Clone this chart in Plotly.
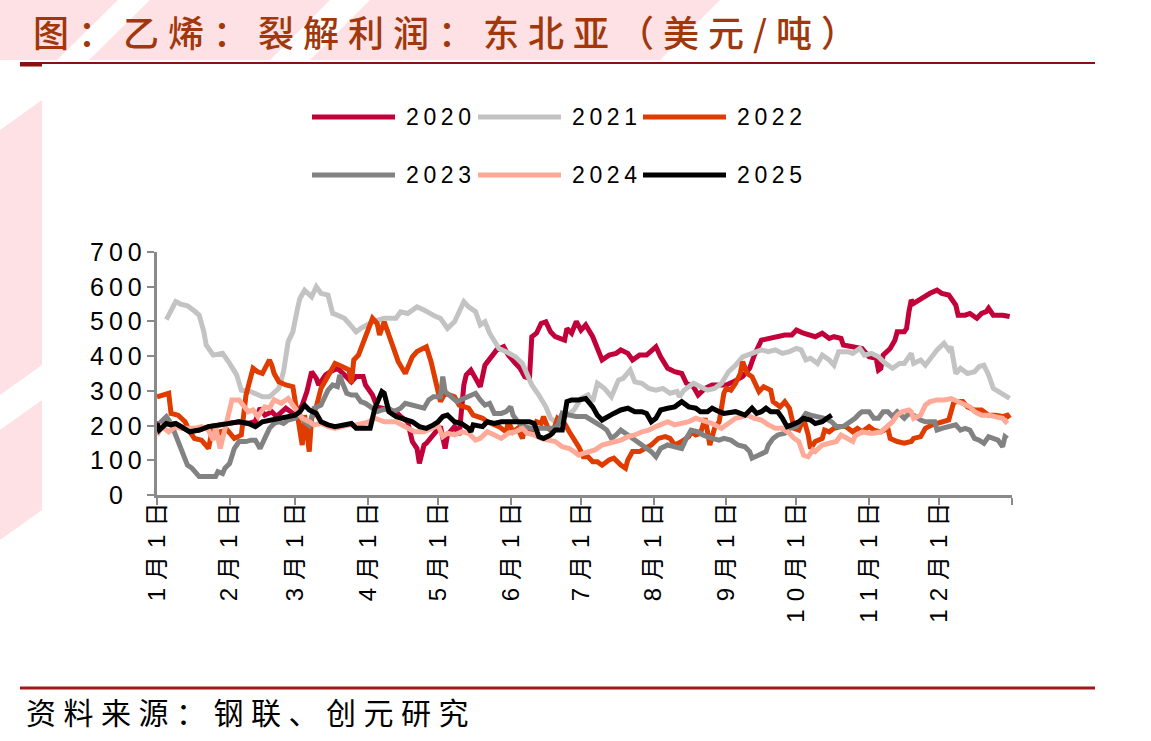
import pandas as pd
import plotly.graph_objects as go

# ---------------- data (day of year offset, value) ----------------
d2020 = [0, 4, 8, 14, 18, 22, 27, 31, 35, 39, 42, 44, 46, 49, 51, 55, 57, 59, 62, 64, 66, 68, 69, 72, 74, 77, 80, 83, 85, 88, 89, 92, 94, 96, 99,
         102, 104, 107, 109, 111, 112, 114, 115, 117, 119, 121, 123, 124, 127, 129, 131, 132, 134, 136, 138, 140, 143, 145, 148,
         150, 153, 155, 157, 159, 160, 162, 164, 166, 168, 170, 174, 175, 177, 179, 181, 183, 186, 188, 190, 193, 196, 198, 201,
         203, 206, 209, 212, 213, 215, 218, 221, 224, 226, 229, 231, 234, 237, 240, 243, 246, 250, 253, 255, 258, 261, 265, 268,
         271, 273, 276, 279, 281, 284, 287, 289, 292, 293, 296, 299, 301, 304, 307, 308, 309, 310, 312, 313, 315, 316, 319, 320,
         321, 322, 323, 326, 328, 330, 333, 335, 338, 340, 341, 342, 345, 347, 350, 352, 354, 355, 357, 361, 364]
v2020 = [205, 204, 205, 184, 187, 197, 202, 206, 211, 206, 212, 250, 230, 240, 226, 250, 240, 230, 259, 298, 355, 336, 317, 346, 355, 365, 346, 326, 341,
         341, 317, 288, 254, 250, 245, 240, 226, 211, 154, 134, 91, 144, 149, 163, 182, 197, 134, 173, 197, 173, 317, 346, 360,
         336, 312, 374, 398, 418, 427, 403, 379, 365, 341, 336, 456, 466, 494, 499, 470, 456, 446, 480, 466, 500, 475, 490, 456,
         418, 389, 403, 408, 418, 408, 389, 403, 403, 418, 427, 398, 365, 355, 350, 322, 312, 288, 307, 317, 317, 317, 326, 341,
         365, 403, 446, 451, 456, 461, 461, 475, 466, 461, 456, 466, 451, 456, 451, 432, 427, 422, 422, 398, 394, 360, 365, 403,
         413, 422, 446, 470, 470, 480, 528, 562, 552, 566, 576, 581, 590, 581, 576, 557, 547, 518, 518, 523, 509, 523, 528, 538,
         518, 518, 514]

d2021 = [4, 5, 8, 10, 13, 16, 18, 20, 21, 24, 28, 31, 34, 36, 40, 45, 48, 52, 54, 56, 58, 60, 61, 63, 66, 68, 70, 73, 75, 77,
         80, 82, 85, 87, 92, 97, 102, 104, 107, 111, 114, 119, 121, 124, 127, 129, 131, 133, 136, 138, 140, 142, 146, 149, 153,
         156, 158, 160, 163, 166, 168, 171, 173, 176, 178, 181, 184, 186, 188, 191, 194, 197, 199, 202, 204, 207, 210, 213, 216,
         219, 222, 223, 225, 229, 232, 235, 238, 241, 244, 247, 250, 252, 255, 258, 261, 264, 267, 270, 273, 275, 277, 279, 282,
         284, 287, 289, 291, 295, 297, 300, 302, 305, 308, 311, 314, 317, 319, 322, 323, 326, 328, 330, 333, 336, 338, 339, 341,
         343, 346, 349, 351, 353, 355, 357, 361, 364]
v2021 = [505, 520, 557, 550, 545, 530, 518, 470, 432, 403, 408, 379, 346, 302, 298, 283, 283, 307, 355, 442, 470, 538, 566, 590,
         571, 600, 581, 576, 523, 518, 509, 494, 470, 480, 499, 509, 509, 528, 523, 542, 533, 514, 509, 480, 499, 528, 557, 542,
         528, 490, 499, 466, 422, 413, 398, 379, 346, 317, 288, 254, 221, 206, 221, 235, 245, 278, 288, 269, 322, 307, 283, 331,
         336, 360, 326, 322, 307, 302, 307, 293, 298, 283, 302, 322, 312, 302, 307, 322, 355, 374, 398, 403, 408, 418, 413, 418,
         408, 413, 422, 418, 389, 394, 379, 403, 389, 374, 413, 413, 408, 422, 403, 408, 398, 379, 365, 379, 379, 408, 379, 389,
         374, 394, 418, 437, 418, 427, 350, 365, 350, 355, 370, 374, 346, 307, 288, 278]

d2022 = [0, 5, 6, 9, 12, 14, 16, 19, 22, 24, 25, 27, 30, 33, 36, 38, 41, 43, 45, 48, 49, 50, 52, 55, 58, 60, 62, 63, 65, 66,
         68, 70, 73, 76, 79, 82, 83, 84, 86, 90, 92, 94, 95, 97, 99, 101, 103, 106, 109, 111, 115, 117, 119, 121, 123, 127, 129,
         133, 135, 139, 141, 144, 146, 149, 150, 152, 154, 156, 157, 160, 162, 164, 165, 167, 169, 171, 174, 176, 178, 180, 181,
         182, 184, 186, 188, 190, 193, 195, 198, 200, 201, 203, 206, 208, 211, 214, 217, 219, 221, 224, 227, 228, 230, 232, 234,
         236, 238, 240, 242, 243, 245, 247, 249, 250, 252, 254, 257, 259, 262, 263, 265, 266, 268, 270, 272, 274, 276, 278, 279,
         281, 284, 285, 287, 289, 292, 294, 297, 299, 301, 304, 306, 309, 312, 313, 316, 319, 322, 323, 326, 328, 331, 333, 336,
         338, 340, 341, 344, 346, 349, 352, 355, 358, 361, 363, 364]
v2022 = [283, 293, 235, 230, 211, 182, 163, 158, 134, 202, 163, 182, 187, 163, 173, 288, 365, 355, 350, 389, 374, 350, 326, 317,
         312, 230, 144, 230, 125, 220, 254, 307, 346, 379, 370, 360, 322, 389, 403, 475, 509, 494, 461, 499, 461, 432, 384, 350,
         398, 413, 427, 384, 330, 269, 293, 283, 259, 250, 230, 221, 211, 202, 197, 182, 211, 182, 192, 163, 192, 182, 211, 206,
         226, 192, 182, 221, 206, 182, 163, 139, 125, 110, 110, 96, 96, 86, 101, 106, 86, 77, 101, 125, 125, 134, 144, 163, 168,
         163, 144, 154, 168, 182, 173, 178, 221, 144, 192, 211, 293, 307, 302, 322, 350, 384, 350, 341, 298, 312, 302, 269, 259,
         254, 269, 250, 192, 187, 221, 173, 134, 154, 163, 187, 182, 192, 197, 197, 182, 192, 182, 197, 187, 182, 192, 163, 154,
         149, 154, 163, 168, 192, 202, 206, 211, 216, 264, 269, 269, 254, 245, 245, 230, 230, 226, 230, 221]

d2023 = [1, 4, 6, 8, 10, 13, 15, 18, 22, 25, 26, 28, 29, 31, 33, 35, 38, 40, 42, 44, 46, 48, 50, 52, 54, 56, 59, 61, 63, 65,
         67, 70, 73, 75, 77, 78, 79, 81, 83, 85, 87, 89, 92, 94, 96, 99, 101, 104, 106, 109, 111, 114, 116, 118, 121, 122, 123,
         126, 128, 131, 133, 136, 138, 140, 142, 144, 147, 149, 151, 152, 154, 157, 160, 163, 166, 169, 171, 173, 176, 179, 183,
         187, 190, 192, 194, 196, 198, 201, 204, 207, 211, 213, 215, 218, 221, 224, 226, 228, 231, 233, 237, 240, 242, 245, 248,
         251, 253, 254, 257, 260, 261, 263, 265, 268, 270, 273, 274, 277, 279, 282, 285, 288, 290, 293, 295, 298, 300, 301, 304,
         306, 308, 310, 312, 314, 316, 319, 321, 323, 326, 328, 332, 333, 335, 338, 341, 343, 345, 347, 349, 351, 353, 355, 357,
         359, 361, 362, 363]
v2023 = [206, 226, 206, 173, 134, 86, 77, 53, 53, 53, 67, 62, 77, 91, 134, 154, 154, 158, 158, 134, 163, 192, 206, 211, 206, 216,
         221, 230, 210, 200, 250, 259, 302, 317, 312, 346, 326, 293, 288, 288, 269, 264, 250, 240, 245, 250, 240, 250, 264, 259,
         254, 250, 274, 283, 283, 341, 298, 283, 269, 278, 283, 293, 274, 259, 264, 235, 235, 240, 254, 230, 211, 197, 192, 192,
         190, 192, 200, 236, 230, 226, 226, 211, 197, 187, 163, 173, 187, 173, 158, 144, 125, 110, 134, 144, 139, 134, 163, 187,
         182, 173, 163, 158, 163, 158, 144, 139, 125, 106, 115, 125, 144, 163, 173, 178, 192, 197, 206, 235, 230, 226, 221, 211,
         197, 197, 206, 221, 235, 240, 240, 221, 221, 240, 240, 226, 240, 221, 235, 230, 216, 211, 211, 187, 192, 197, 202, 187,
         192, 187, 163, 158, 149, 168, 163, 158, 139, 168, 163]

d2024 = [0, 2, 5, 8, 10, 13, 16, 19, 22, 24, 25, 27, 29, 32, 35, 37, 39, 41, 43, 46, 48, 50, 53, 56, 58, 62, 65, 67, 70, 73,
         76, 79, 82, 85, 90, 93, 97, 102, 106, 110, 114, 117, 120, 122, 124, 127, 130, 133, 136, 138, 141, 144, 147, 150, 153,
         156, 158, 161, 164, 167, 170, 173, 176, 178, 180, 182, 184, 187, 190, 193, 196, 198, 201, 204, 207, 210, 213, 215, 218,
         221, 224, 227, 230, 232, 234, 237, 241, 244, 247, 250, 252, 255, 258, 261, 264, 267, 270, 272, 274, 276, 278, 280, 281,
         284, 287, 290, 292, 295, 297, 298, 301, 304, 306, 309, 311, 314, 316, 318, 321, 322, 323, 326, 328, 330, 333, 336, 339,
         342, 345, 347, 349, 352, 355, 358, 361, 363]
v2024 = [173, 197, 182, 197, 192, 192, 192, 197, 187, 158, 197, 134, 192, 274, 274, 259, 240, 245, 226, 254, 250, 274, 264, 278,
         259, 221, 211, 202, 206, 197, 192, 197, 202, 202, 210, 221, 211, 211, 197, 182, 182, 192, 200, 168, 178, 173, 182, 178,
         158, 163, 182, 173, 163, 178, 182, 192, 178, 173, 163, 158, 154, 139, 134, 125, 115, 120, 125, 130, 144, 149, 154, 158,
         168, 173, 182, 187, 197, 202, 211, 202, 206, 211, 221, 216, 211, 206, 192, 206, 221, 226, 230, 221, 216, 202, 192, 192,
         178, 163, 154, 115, 110, 130, 125, 144, 149, 154, 173, 163, 154, 170, 182, 178, 178, 182, 192, 211, 230, 240, 245, 240,
         221, 230, 259, 269, 274, 274, 278, 269, 259, 254, 240, 230, 230, 226, 221, 206]

d2025 = [0, 1, 4, 6, 8, 11, 14, 18, 22, 27, 31, 35, 39, 42, 45, 49, 53, 56, 59, 61, 63, 65, 68, 70, 73, 76, 79, 83, 85, 91,
         93, 96, 97, 99, 102, 104, 107, 109, 112, 115, 118, 120, 122, 124, 127, 130, 133, 134, 135, 139, 141, 144, 147, 150, 153,
         156, 159, 161, 163, 165, 168, 170, 173, 175, 177, 180, 183, 186, 188, 190, 193, 195, 198, 201, 204, 207, 209, 211, 213,
         215, 218, 221, 224, 227, 230, 232, 235, 237, 240, 242, 247, 251, 254, 256, 258, 260, 262, 265, 267, 269, 271, 274, 276,
         279, 281, 284, 286, 288]
v2025 = [206, 187, 206, 202, 206, 192, 182, 187, 197, 202, 206, 211, 206, 197, 211, 216, 221, 226, 230, 240, 259, 245, 235, 211,
         202, 197, 202, 206, 192, 192, 250, 298, 293, 240, 226, 221, 216, 211, 197, 192, 202, 211, 226, 230, 211, 206, 192, 182,
         202, 197, 211, 206, 211, 211, 211, 211, 211, 206, 168, 163, 173, 187, 187, 269, 274, 274, 278, 254, 230, 216, 230, 235,
         245, 250, 240, 240, 235, 211, 221, 245, 250, 254, 269, 254, 250, 240, 240, 250, 240, 235, 240, 230, 250, 235, 240, 250,
         240, 240, 221, 197, 202, 211, 221, 216, 206, 211, 221, 230]

series_names = ["2020", "2021", "2022", "2023", "2024", "2025"]
series_colors = ["#C2003A", "#C3C3C3", "#E03C00", "#828282", "#FFAA98", "#000000"]
series_days = [d2020, d2021, d2022, d2023, d2024, d2025]
series_vals = [v2020, v2021, v2022, v2023, v2024, v2025]

month_labels = ["1月1日", "2月1日", "3月1日", "4月1日", "5月1日", "6月1日",
                "7月1日", "8月1日", "9月1日", "10月1日", "11月1日", "12月1日", ""]
y_ticks = [0, 100, 200, 300, 400, 500, 600, 700]

title_text = "图：乙烯：裂解利润：东北亚（美元/吨）"
source_text = "资料来源：钢联、创元研究"

# ---------------- layout helpers (pixel -> paper) ----------------
W, H = 1151, 741
PL, PR, PT, PB = 157, 1012, 252, 495


def px(x):
    return (x - PL) / (PR - PL)


def py(y):
    return (PB - y) / (PB - PT)


def spaced(s, sp="\u2004"):
    return sp.join(list(s))


base = pd.Timestamp("2021-01-01")


def to_dates(days):
    return [(base + pd.Timedelta(days=int(d))).strftime("%Y-%m-%d") for d in days]


fig = go.Figure()
for name, d, v, c in zip(series_names, series_days, series_vals, series_colors):
    fig.add_trace(go.Scatter(x=to_dates(d), y=v, mode="lines", name=name,
                             line=dict(color=c, width=5), showlegend=False))

tickvals = [(base + pd.DateOffset(months=i)).strftime("%Y-%m-%d") for i in range(13)]
ticktext = [spaced(t, "\u2004") for t in month_labels]

axis_grey = "#8A8A8A"
fig.update_layout(
    width=W, height=H,
    margin=dict(l=PL, r=W - PR, t=PT, b=H - PB, pad=0),
    paper_bgcolor="white", plot_bgcolor="rgba(0,0,0,0)",
    showlegend=False,
    xaxis=dict(type="date", range=[tickvals[0], tickvals[-1]], tickmode="array",
               tickvals=tickvals, ticktext=ticktext, tickangle=-90,
               ticks="outside", ticklen=7, tickwidth=2, tickcolor=axis_grey,
               ticklabelstandoff=-12,
               showline=True, linecolor=axis_grey, linewidth=3,
               showgrid=False, zeroline=False,
               tickfont=dict(family="Liberation Sans, Noto Sans CJK SC", size=24, color="black")),
    yaxis=dict(range=[0, 700], tickmode="array", tickvals=y_ticks,
               ticks="outside", ticklen=7, tickwidth=2, tickcolor=axis_grey,
               showline=True, linecolor=axis_grey, linewidth=3,
               showgrid=False, zeroline=False, showticklabels=False),
)

annotations = []
for t in y_ticks:
    annotations.append(dict(x=px(116), xref="paper", y=t, yref="y", text=spaced(str(t), "\u2009"),
                            showarrow=False, xanchor="center", yanchor="middle",
                            font=dict(family="Liberation Sans", size=25, color="black")))

# legend (manual, long line samples)
leg_pos = [(312, 117), (478, 117), (643, 117), (312, 175), (478, 175), (643, 175)]
shapes = []
for (lx, ly), name, c in zip(leg_pos, series_names, series_colors):
    shapes.append(dict(type="line", xref="paper", yref="paper", x0=px(lx), x1=px(lx + 83),
                       y0=py(ly), y1=py(ly), line=dict(color=c, width=5)))
    annotations.append(dict(x=px(lx + 92), xref="paper", y=py(ly), yref="paper",
                            text=spaced(name, "\u2009"), showarrow=False, xanchor="left", yanchor="middle",
                            font=dict(family="Liberation Sans", size=23, color="black")))

# title & source
annotations.append(dict(x=px(31), xref="paper", y=py(31), yref="paper", text=spaced(title_text, "\u2005"),
                        showarrow=False, xanchor="left", yanchor="middle",
                        font=dict(family="Noto Sans CJK SC", size=36, color="#A0380C", weight=500)))
annotations.append(dict(x=px(24), xref="paper", y=py(711), yref="paper", text=spaced(source_text, "\u2005"),
                        showarrow=False, xanchor="left", yanchor="middle",
                        font=dict(family="Noto Sans CJK SC", size=30, color="black")))


def poly(points, color):
    path = "M " + " L ".join(f"{px(x):.5f},{py(y):.5f}" for x, y in points) + " Z"
    return dict(type="path", xref="paper", yref="paper", path=path, fillcolor=color,
                line=dict(width=0), layer="below")


pink = "#FDE1E4"
shapes = [
    poly([(0, 0), (118, 0), (57, 60), (0, 60)], pink),
    poly([(150, 0), (330, 0), (270, 60), (89, 60)], pink),
    poly([(370, 0), (720, 0), (660, 60), (310, 60)], pink),
    poly([(0, 130), (42, 100), (42, 365), (0, 395)], pink),
    poly([(0, 430), (42, 400), (42, 510), (0, 540)], pink),
] + shapes

# rules
dark_red = "#8E0F0F"
shapes.append(dict(type="line", xref="paper", yref="paper", x0=px(20), x1=px(1095), y0=py(63), y1=py(63),
                   line=dict(color=dark_red, width=2)))
shapes.append(dict(type="line", xref="paper", yref="paper", x0=px(20), x1=px(42), y0=py(64.5), y1=py(64.5),
                   line=dict(color=dark_red, width=4)))
shapes.append(dict(type="line", xref="paper", yref="paper", x0=px(20), x1=px(1095), y0=py(688), y1=py(688),
                   line=dict(color="#A01818", width=3)))

fig.update_layout(annotations=annotations, shapes=shapes)
fig.write_html("out.html")
